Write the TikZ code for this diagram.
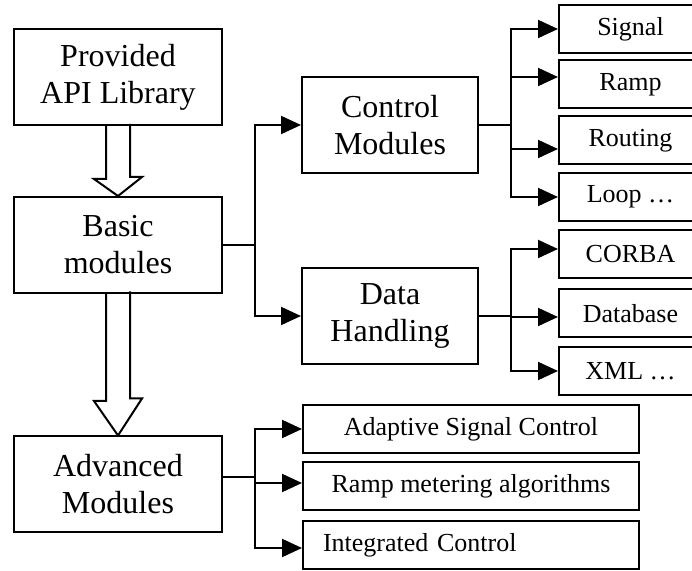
\documentclass[tikz,border=0pt]{standalone}
\usepackage{fontspec}
\setmainfont{Liberation Serif}
\usepackage{tikz}
\usetikzlibrary{arrows.meta}
\tikzstyle{module} = [
    rectangle, minimum width=104pt, minimum height=48pt, align=center,
    draw=black, line width=1pt, font=\fontsize{16}{18.5}\selectfont
]
\tikzstyle{leaf} = [
    rectangle, minimum width=71.5pt, minimum height=24pt, anchor=west,
    draw=black, line width=1pt, font=\fontsize{13}{15}\selectfont
]
\tikzstyle{algo} = [leaf, minimum width=168pt]
\tikzstyle{link} = [line width=1pt]
\tikzstyle{arrow} = [line width=1pt,-{Triangle[length=10pt,width=9pt]}]
\tikzstyle{hollow} = [line width=1pt, line join=miter]

\begin{document}
\begin{tikzpicture}[x=0.5pt, y=-0.5pt, node distance=84pt]
        \useasboundingbox (0,0) rectangle (692,571);
        \clip (0,0) rectangle (692,571);

        \node (prov) [module] at (118,77) {Provided\\API Library};
        \node (basic) [module, below of=prov] {Basic\\modules};
        \node (adv) [module, below of=basic, yshift=-35.75pt]
            {Advanced\\Modules};
        \node (ctrl) [module, minimum width=88pt, right of=basic,
            xshift=52pt, yshift=60pt] {Control\\Modules};
        \node (data) [module, minimum width=88pt, below of=ctrl,
            yshift=-11.5pt] {Data\\Handling};

        \node (signal) [leaf] at (558,29) {Signal};
        \node (ramp) [leaf] at (558,84.5) {Ramp};
        \node (routing) [leaf] at (558,140.5) {Routing};
        \node (loop) [leaf] at (558,197) {Loop …};
        \node (corba) [leaf] at (558,254) {CORBA};
        \node (database) [leaf] at (558,313.5) {Database};
        \node (xml) [leaf] at (558,371) {XML …};

        \node (adaptive) [algo] at (302,429) {Adaptive Signal Control};
        \node (metering) [algo] at (302,486) {Ramp metering algorithms};
        \node (integrated) [algo, align=left, text width=148pt,
            inner xsep=10pt] at (302,545) {Integrated Control};

        % wide arrows down the left column
        \draw [hollow] ([xshift=-6pt]prov.south) -- ++(0,53) -- ++(-12,0)
            -- (basic.north) -- ++(24,-19) -- ++(-12,0) -- ++(0,-53);
        \draw [hollow] ([xshift=-6pt]basic.south) -- ++(0,107) -- ++(-12,0)
            -- (adv.north) -- ++(24,-37) -- ++(-12,0) -- ++(0,-107);

        \draw [link] (basic.east) -- ++(32,0) coordinate(b1);
        \draw [arrow] (b1) |- (ctrl.west);
        \draw [arrow] (b1) |- (data.west);

        \draw [link] (ctrl.east) -- ++(32,0) coordinate(c1);
        \draw [arrow] (c1) |- (signal.west);
        \draw [arrow] (c1) |- ([yshift=3.75pt]ramp.west);
        \draw [arrow] (c1) |- ([yshift=-4.25pt]routing.west);
        \draw [arrow] (c1) |- (loop.west);

        \draw [link] (data.east) -- ++(32,0) coordinate(d1);
        \draw [arrow] (d1) |- ([yshift=2.5pt]corba.west);
        \draw [arrow] (d1) |- ([yshift=-1.75pt]database.west);
        \draw [arrow] (d1) |- (xml.west);

        \draw [link] ([yshift=3.75pt]adv.east) -- ++(32,0) coordinate(a1);
        \draw [arrow] (a1) |- (adaptive.west);
        \draw [arrow] (a1) |- ([yshift=1.5pt]metering.west);
        \draw [arrow] (a1) |- ([yshift=-1.5pt]integrated.west);
    \end{tikzpicture}
\end{document}
